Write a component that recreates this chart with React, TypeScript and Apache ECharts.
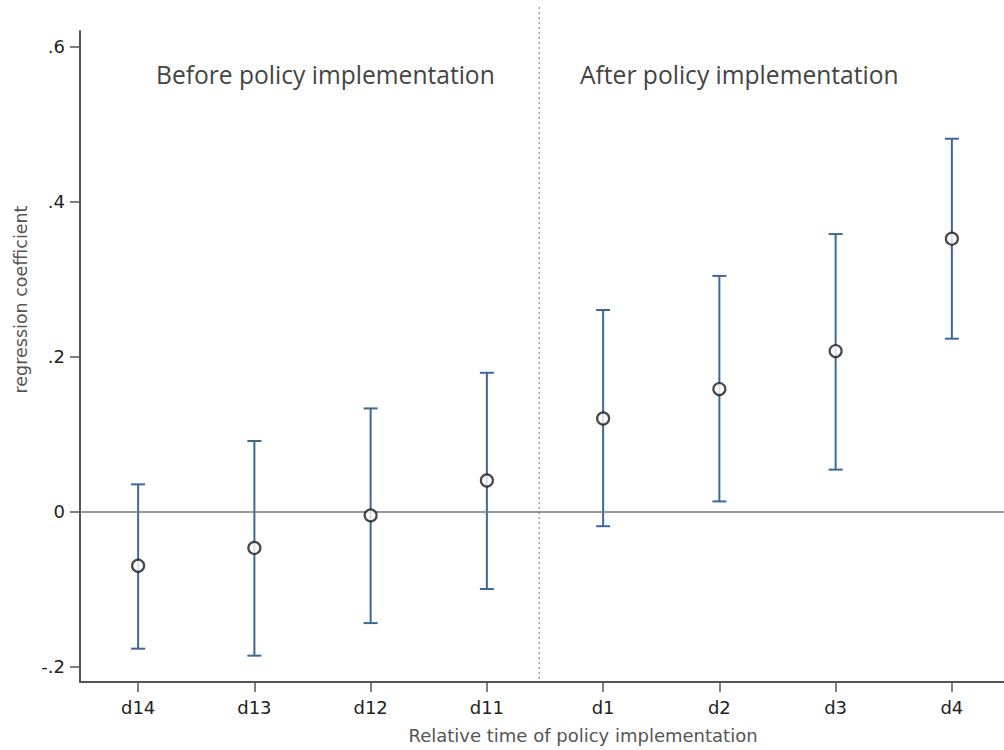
import React, { useEffect, useRef } from "react";
import * as echarts from "echarts";

const categories = ["d14", "d13", "d12", "d11", "d1", "d2", "d3", "d4"];
const coef = [-0.07, -0.047, -0.005, 0.04, 0.12, 0.158, 0.207, 0.352];
const lower = [-0.177, -0.186, -0.144, -0.1, -0.019, 0.013, 0.054, 0.223];
const upper = [0.035, 0.091, 0.133, 0.179, 0.26, 0.304, 0.358, 0.481];
const yTicks = [-0.2, 0, 0.2, 0.4, 0.6];
const xTicks = [1, 2, 3, 4, 5, 6, 7, 8];
const policyLineX = 4.45;
const yMin = -0.22;
const yMax = 0.62;
const policyLineTop = 0.651;
const beforeLabel = "Before policy implementation";
const afterLabel = "After policy implementation";

const fmtY = (v: number) => {
  if (Math.abs(v) < 1e-9) return "0";
  const s = String(Math.round(v * 10) / 10);
  return s.replace("0.", ".");
};

export default function App() {
  const ref = useRef<HTMLDivElement>(null);
  useEffect(() => {
    if (!ref.current) return;
    const chart = echarts.init(ref.current, undefined, { renderer: "svg" });
    const barColor = "#3b6896";
    const axisColor = "#555";
    const option: any = {
      animation: false,
      backgroundColor: "#fff",
      grid: {
        left: 80,
        top: 31,
        width: 930,
        bottom: 68,
        containLabel: false,
        outerBoundsMode: "none",
      },
      xAxis: {
        type: "value",
        min: 0.5,
        max: 8.5,
        name: "Relative time of policy implementation",
        nameLocation: "middle",
        nameGap: 44,
        nameTextStyle: {
          fontFamily: "DejaVu Sans",
          fontSize: 18,
          color: "#555",
          padding: [0, 0, 0, 76],
        },
        axisLine: { show: true, onZero: false, lineStyle: { color: axisColor, width: 2 } },
        axisTick: {
          show: true,
          customValues: xTicks,
          length: 10,
          lineStyle: { color: axisColor, width: 1.5 },
        },
        axisLabel: {
          customValues: xTicks,
          formatter: (v: number) => categories[Math.round(v) - 1] ?? "",
          fontFamily: "DejaVu Sans",
          fontSize: 18,
          color: "#222",
          margin: 16,
        },
        splitLine: { show: false },
      },
      yAxis: {
        type: "value",
        min: yMin,
        max: yMax,
        name: "regression coefficient",
        nameLocation: "middle",
        nameRotate: 90,
        nameGap: 50,
        nameTextStyle: {
          fontFamily: "DejaVu Sans",
          fontSize: 17.5,
          color: "#555",
          padding: [0, 0, 0, 114],
        },
        axisLine: { show: true, onZero: false, lineStyle: { color: axisColor, width: 2 } },
        axisTick: {
          show: true,
          customValues: yTicks,
          length: 10,
          lineStyle: { color: axisColor, width: 1.5 },
        },
        axisLabel: {
          customValues: yTicks,
          formatter: fmtY,
          fontFamily: "DejaVu Sans",
          fontSize: 18,
          color: "#222",
          margin: 15,
        },
        splitLine: { show: false },
      },
      graphic: [
        {
          type: "text",
          left: 156,
          top: 62,
          style: {
            text: beforeLabel,
            fontFamily: "Open Sans",
            fontSize: 24.6,
            fill: "#444",
          },
        },
        {
          type: "text",
          left: 580,
          top: 62,
          style: {
            text: afterLabel,
            fontFamily: "Open Sans",
            fontSize: 24.6,
            fill: "#444",
          },
        },
      ],
      series: [
        {
          type: "custom",
          name: "policy line",
          clip: false,
          silent: true,
          data: [[policyLineX, policyLineTop, yMin]],
          renderItem: (params: any, api: any) => {
            const p1 = api.coord([api.value(0), api.value(1)]);
            const p2 = api.coord([api.value(0), api.value(2)]);
            return {
              type: "line",
              shape: { x1: p1[0], y1: p1[1], x2: p2[0], y2: p2[1] },
              style: { stroke: "#888", lineWidth: 1.2, lineDash: [2, 3] },
            };
          },
          markLine: {
            silent: true,
            symbol: "none",
            label: { show: false },
            lineStyle: { color: "#777", width: 1.5, type: "solid" },
            data: [{ yAxis: 0 }],
          },
        },
        {
          type: "custom",
          name: "CI",
          silent: true,
          data: categories.map((_, i) => [i + 1, lower[i], upper[i]]),
          renderItem: (params: any, api: any) => {
            const x = api.value(0);
            const pLo = api.coord([x, api.value(1)]);
            const pHi = api.coord([x, api.value(2)]);
            const cap = 7;
            const st = { stroke: barColor, lineWidth: 2 };
            return {
              type: "group",
              children: [
                { type: "line", shape: { x1: pHi[0], y1: pHi[1], x2: pLo[0], y2: pLo[1] }, style: st },
                { type: "line", shape: { x1: pHi[0] - cap, y1: pHi[1], x2: pHi[0] + cap, y2: pHi[1] }, style: st },
                { type: "line", shape: { x1: pLo[0] - cap, y1: pLo[1], x2: pLo[0] + cap, y2: pLo[1] }, style: st },
              ],
            };
          },
        },
        {
          type: "scatter",
          name: "coef",
          silent: true,
          symbol: "circle",
          symbolSize: 12,
          itemStyle: { color: "#fff", borderColor: "#1a1a1a", borderWidth: 2.2 },
          data: categories.map((_, i) => [i + 1, coef[i]]),
          z: 5,
        },
      ],
    };
    chart.setOption(option);
    return () => chart.dispose();
  }, []);
  return (
    <div
      ref={ref}
      style={{ position: "absolute", left: 0, top: 0, width: 1004, height: 750 }}
    />
  );
}
